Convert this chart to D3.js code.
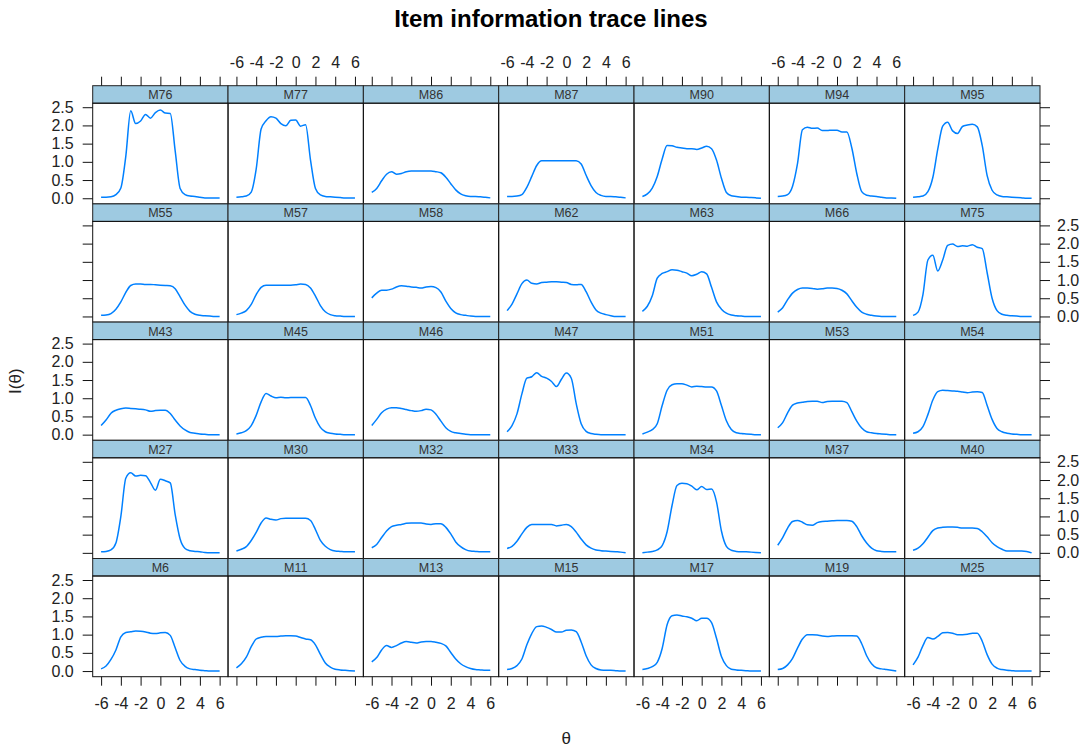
<!DOCTYPE html>
<html>
<head>
<meta charset="utf-8">
<script src="https://cdn.jsdelivr.net/npm/d3@7"></script>
<style>
  body { margin: 0; background: #fff; }
  svg text { font-family: "Liberation Sans", Arial, sans-serif; }
</style>
</head>
<body>
<div id="chart"></div>
<script>
// theta grid shared by every item
var theta = [-6, -5.5, -5, -4.5, -4, -3.5, -3, -2.5, -2, -1.5, -1, -0.5, 0,
             0.5, 1, 1.5, 2, 2.5, 3, 3.5, 4, 4.5, 5, 5.5, 6];

// item information, one array per item
var m76 = [0.03,0.03,0.04,0.1,0.28,1.15,2.4,2.05,2.12,2.3,2.2,2.35,2.42,2.34,2.33,1.3,0.27,0.1,0.06,0.05,0.03,0.01,0.01,0.01,0.01];
var m77 = [0.03,0.04,0.06,0.17,0.8,1.9,2.13,2.24,2.2,2.05,1.99,2.14,2.15,1.98,2.02,1.05,0.27,0.09,0.05,0.04,0.03,0.02,0.01,0.01,0.01];
var m86 = [0.16,0.27,0.48,0.66,0.73,0.66,0.68,0.73,0.75,0.75,0.75,0.75,0.75,0.73,0.7,0.58,0.4,0.23,0.12,0.07,0.05,0.05,0.04,0.03,0.01];
var m87 = [0.05,0.05,0.06,0.1,0.3,0.6,0.9,1.03,1.03,1.03,1.03,1.03,1.03,1.03,1.03,0.94,0.63,0.35,0.16,0.08,0.05,0.05,0.04,0.03,0.01];
var m90 = [0.05,0.12,0.28,0.6,1.08,1.45,1.44,1.4,1.38,1.36,1.36,1.34,1.38,1.43,1.36,1.05,0.55,0.16,0.07,0.05,0.03,0.03,0.02,0.01,0.0];
var m94 = [0.05,0.06,0.1,0.33,0.95,1.88,1.95,1.92,1.93,1.86,1.86,1.87,1.87,1.82,1.82,1.38,0.68,0.18,0.08,0.06,0.05,0.03,0.01,0.01,0.0];
var m95 = [0.03,0.04,0.06,0.18,0.57,1.35,1.98,2.09,1.85,1.78,1.97,2.01,2.03,1.96,1.45,0.62,0.22,0.09,0.05,0.04,0.03,0.02,0.01,0.0,0.0];

var m55 = [0.03,0.04,0.08,0.2,0.4,0.66,0.85,0.89,0.89,0.88,0.88,0.87,0.86,0.85,0.84,0.76,0.54,0.31,0.14,0.06,0.03,0.02,0.01,0.0,0.0];
var m57 = [0.05,0.09,0.16,0.33,0.6,0.8,0.86,0.86,0.86,0.86,0.86,0.86,0.87,0.89,0.88,0.78,0.56,0.3,0.13,0.05,0.02,0.01,0.0,0.0,0.0];
var m58 = [0.51,0.64,0.72,0.72,0.75,0.81,0.84,0.83,0.81,0.8,0.78,0.81,0.82,0.79,0.67,0.42,0.22,0.1,0.05,0.03,0.01,0.0,0.0,0.0,0.0];
var m62 = [0.16,0.34,0.62,0.9,1.0,0.91,0.89,0.93,0.94,0.95,0.95,0.94,0.93,0.88,0.87,0.88,0.68,0.4,0.18,0.09,0.05,0.02,0.0,0.0,0.0];
var m63 = [0.14,0.28,0.57,1.05,1.18,1.23,1.28,1.27,1.23,1.19,1.12,1.16,1.23,1.17,0.8,0.4,0.2,0.09,0.04,0.02,0.01,0.0,0.0,0.0,0.0];
var m66 = [0.12,0.24,0.46,0.64,0.74,0.78,0.78,0.77,0.75,0.76,0.78,0.78,0.77,0.72,0.62,0.43,0.25,0.12,0.06,0.03,0.01,0.0,0.0,0.0,0.0];
var m75 = [0.03,0.12,0.6,1.55,1.68,1.25,1.55,1.95,1.99,1.92,1.94,1.93,1.97,1.9,1.86,1.2,0.5,0.16,0.06,0.03,0.02,0.01,0.0,0.0,0.0];

var m43 = [0.25,0.4,0.59,0.67,0.71,0.73,0.72,0.71,0.7,0.68,0.64,0.66,0.67,0.67,0.58,0.4,0.24,0.13,0.06,0.04,0.02,0.01,0.0,0.0,0.0];
var m45 = [0.02,0.05,0.11,0.25,0.53,0.9,1.13,1.06,1.01,1.03,1.01,1.02,1.02,1.02,1.02,0.8,0.45,0.2,0.08,0.04,0.02,0.01,0.0,0.0,0.0];
var m46 = [0.25,0.42,0.6,0.7,0.74,0.74,0.72,0.69,0.66,0.64,0.66,0.7,0.68,0.56,0.37,0.19,0.09,0.05,0.03,0.01,0.0,0.0,0.0,0.0,0.0];
var m47 = [0.08,0.25,0.57,1.12,1.55,1.59,1.7,1.6,1.55,1.46,1.32,1.52,1.69,1.55,0.85,0.3,0.09,0.03,0.01,0.0,0.0,0.0,0.0,0.0,0.0];
var m51 = [0.02,0.07,0.14,0.3,0.8,1.22,1.37,1.4,1.4,1.36,1.31,1.33,1.32,1.31,1.31,1.2,0.8,0.38,0.14,0.05,0.03,0.02,0.01,0.0,0.0];
var m53 = [0.19,0.33,0.6,0.81,0.87,0.89,0.91,0.92,0.92,0.88,0.91,0.92,0.92,0.92,0.88,0.63,0.37,0.18,0.08,0.05,0.03,0.02,0.01,0.0,0.0];
var m54 = [0.04,0.08,0.22,0.55,0.95,1.18,1.22,1.21,1.2,1.19,1.17,1.15,1.17,1.18,1.16,0.8,0.42,0.17,0.08,0.04,0.02,0.01,0.0,0.0,0.0];

var m27 = [0.03,0.04,0.08,0.27,1.0,2.05,2.2,2.11,2.13,2.12,1.93,1.72,2.02,1.98,1.92,1.05,0.38,0.12,0.06,0.04,0.03,0.01,0.0,0.0,0.0];
var m30 = [0.05,0.1,0.17,0.34,0.56,0.82,0.96,0.92,0.9,0.94,0.95,0.95,0.95,0.95,0.95,0.89,0.64,0.34,0.18,0.09,0.05,0.04,0.03,0.03,0.03];
var m32 = [0.14,0.23,0.42,0.6,0.72,0.76,0.78,0.81,0.82,0.82,0.82,0.79,0.78,0.8,0.8,0.7,0.52,0.3,0.17,0.09,0.05,0.04,0.03,0.03,0.03];
var m33 = [0.12,0.18,0.32,0.52,0.7,0.78,0.78,0.78,0.78,0.78,0.74,0.76,0.78,0.72,0.57,0.38,0.22,0.13,0.08,0.06,0.05,0.04,0.03,0.02,0.0];
var m34 = [0.0,0.02,0.04,0.08,0.2,0.58,1.3,1.85,1.91,1.9,1.83,1.73,1.82,1.74,1.75,1.4,0.6,0.18,0.07,0.04,0.03,0.03,0.02,0.01,0.0];
var m37 = [0.21,0.42,0.68,0.86,0.89,0.84,0.77,0.76,0.83,0.86,0.87,0.88,0.89,0.89,0.89,0.87,0.72,0.47,0.27,0.13,0.06,0.04,0.03,0.03,0.03];
var m40 = [0.07,0.13,0.25,0.43,0.61,0.68,0.7,0.71,0.71,0.7,0.68,0.68,0.68,0.67,0.58,0.44,0.28,0.17,0.1,0.05,0.05,0.05,0.05,0.04,0.0];

var m6  = [0.06,0.14,0.32,0.58,0.94,1.06,1.08,1.1,1.09,1.07,1.04,1.03,1.05,1.06,0.98,0.64,0.29,0.13,0.06,0.04,0.02,0.01,0.0,0.0,0.0];
var m11 = [0.09,0.2,0.38,0.67,0.88,0.93,0.95,0.95,0.95,0.96,0.97,0.97,0.96,0.92,0.88,0.86,0.72,0.46,0.22,0.11,0.05,0.03,0.02,0.01,0.0];
var m13 = [0.25,0.37,0.58,0.7,0.65,0.7,0.77,0.81,0.79,0.77,0.8,0.81,0.81,0.79,0.76,0.69,0.51,0.33,0.2,0.12,0.07,0.04,0.03,0.02,0.02];
var m15 = [0.04,0.07,0.15,0.33,0.72,1.03,1.22,1.24,1.2,1.14,1.07,1.07,1.12,1.13,1.08,0.8,0.42,0.17,0.07,0.03,0.02,0.02,0.01,0.0,0.0];
var m17 = [0.04,0.07,0.12,0.24,0.62,1.27,1.52,1.54,1.51,1.49,1.45,1.38,1.45,1.45,1.33,0.9,0.4,0.15,0.05,0.03,0.02,0.01,0.0,0.0,0.0];
var m19 = [0.04,0.07,0.17,0.35,0.63,0.88,1.0,1.0,0.99,0.96,0.95,0.96,0.97,0.97,0.97,0.97,0.96,0.75,0.42,0.2,0.09,0.06,0.04,0.02,0.0];
var m25 = [0.17,0.38,0.7,0.92,0.88,0.95,1.05,1.06,1.04,1.0,1.0,1.01,1.04,1.04,0.82,0.45,0.19,0.08,0.04,0.02,0.01,0.0,0.0,0.0,0.0];

// panel layout, top row first
var rowNames = [
  ["M76", "M77", "M86", "M87", "M90", "M94", "M95"],
  ["M55", "M57", "M58", "M62", "M63", "M66", "M75"],
  ["M43", "M45", "M46", "M47", "M51", "M53", "M54"],
  ["M27", "M30", "M32", "M33", "M34", "M37", "M40"],
  ["M6", "M11", "M13", "M15", "M17", "M19", "M25"]
];
var rowValues = [
  [m76, m77, m86, m87, m90, m94, m95],
  [m55, m57, m58, m62, m63, m66, m75],
  [m43, m45, m46, m47, m51, m53, m54],
  [m27, m30, m32, m33, m34, m37, m40],
  [m6, m11, m13, m15, m17, m19, m25]
];

var xTicks = [-6, -4, -2, 0, 2, 4, 6];
var yTicks = [0, 0.5, 1, 1.5, 2, 2.5];

// SVG wrapper dimensions
var svgWidth = 1087;
var svgHeight = 751;

var gridLeft = 92.7;
var gridRight = 1040;
var gridTop = 85.7;
var nRows = rowNames.length;
var nCols = rowNames[0].length;
var colW = (gridRight - gridLeft) / nCols;
var rowH = 118.2;
var stripH = 17.5;
var plotH = rowH - stripH;
var gridBottom = gridTop + nRows * rowH;

var svg = d3.select("#chart")
  .append("svg")
  .attr("width", svgWidth)
  .attr("height", svgHeight);

// scales (one panel wide / one panel high)
var xScale = d3.scaleLinear()
  .domain([-6.85, 6.85])
  .range([0, colW]);

var yScale = d3.scaleLinear()
  .domain([-0.155, 2.61])
  .range([plotH, 0]);

var line = d3.line()
  .x((d, i) => xScale(theta[i]))
  .y(d => yScale(d))
  .curve(d3.curveMonotoneX);

// draw panels
rowNames.forEach(function(names, r) {
  names.forEach(function(name, c) {
    var g = svg.append("g")
      .attr("transform", `translate(${gridLeft + c * colW}, ${gridTop + r * rowH})`);

    // strip
    g.append("rect")
      .attr("x", 0)
      .attr("y", 0)
      .attr("width", colW)
      .attr("height", stripH)
      .attr("fill", "#9ecae1")
      .attr("stroke", "#222")
      .attr("stroke-width", 1);

    g.append("text")
      .attr("x", colW / 2)
      .attr("y", stripH - 4)
      .attr("text-anchor", "middle")
      .attr("font-size", "12.5px")
      .attr("fill", "#333")
      .text(name);

    var plot = g.append("g")
      .attr("transform", `translate(0, ${stripH})`);

    plot.append("rect")
      .attr("width", colW)
      .attr("height", plotH)
      .attr("fill", "none")
      .attr("stroke", "#111")
      .attr("stroke-width", 1);

    plot.append("path")
      .datum(rowValues[r][c])
      .attr("d", line)
      .attr("fill", "none")
      .attr("stroke", "#0080ff")
      .attr("stroke-width", 1.5);
  });
});

// x axes on top and bottom of each column
function styleAxis(sel) {
  sel.select(".domain").remove();
  sel.selectAll("line").attr("stroke", "#111");
  sel.selectAll("text")
    .attr("font-size", "16px")
    .attr("fill", "#222")
    .attr("font-family", "'Liberation Sans', Arial, sans-serif");
}

// plain hyphen for negatives, like the original
var intLabel = d => String(d);
var decLabel = d => d.toFixed(1);

for (var c = 0; c < nCols; c++) {
  var topAxis = d3.axisTop(xScale)
    .tickValues(xTicks)
    .tickSize(9)
    .tickPadding(9)
    .tickFormat(c % 2 === 1 ? intLabel : "");
  svg.append("g")
    .attr("transform", `translate(${gridLeft + c * colW}, ${gridTop})`)
    .call(topAxis)
    .call(styleAxis);

  var bottomAxis = d3.axisBottom(xScale)
    .tickValues(xTicks)
    .tickSize(9)
    .tickPadding(12)
    .tickFormat(c % 2 === 0 ? intLabel : "");
  svg.append("g")
    .attr("transform", `translate(${gridLeft + c * colW}, ${gridBottom})`)
    .call(bottomAxis)
    .call(styleAxis);
}

// y axes on left and right of each row
for (var r = 0; r < nRows; r++) {
  var leftAxis = d3.axisLeft(yScale)
    .tickValues(yTicks)
    .tickSize(10)
    .tickPadding(9)
    .tickFormat(r % 2 === 0 ? decLabel : "");
  svg.append("g")
    .attr("transform", `translate(${gridLeft}, ${gridTop + r * rowH + stripH})`)
    .call(leftAxis)
    .call(styleAxis);

  var rightAxis = d3.axisRight(yScale)
    .tickValues(yTicks)
    .tickSize(10)
    .tickPadding(7)
    .tickFormat(r % 2 === 1 ? decLabel : "");
  svg.append("g")
    .attr("transform", `translate(${gridRight}, ${gridTop + r * rowH + stripH})`)
    .call(rightAxis)
    .call(styleAxis);
}

// title and axis labels
svg.append("text")
  .attr("x", 551)
  .attr("y", 27)
  .attr("text-anchor", "middle")
  .attr("font-size", "24px")
  .attr("font-weight", "bold")
  .attr("fill", "#000")
  .text("Item information trace lines");

svg.append("text")
  .attr("x", (gridLeft + gridRight) / 2)
  .attr("y", 743.5)
  .attr("text-anchor", "middle")
  .attr("font-size", "17px")
  .attr("fill", "#222")
  .text("θ");

svg.append("text")
  .attr("transform", `translate(21, ${(gridTop + gridBottom) / 2}) rotate(-90)`)
  .attr("text-anchor", "middle")
  .attr("font-size", "17px")
  .attr("fill", "#222")
  .text("I(θ)");
</script>
</body>
</html>
